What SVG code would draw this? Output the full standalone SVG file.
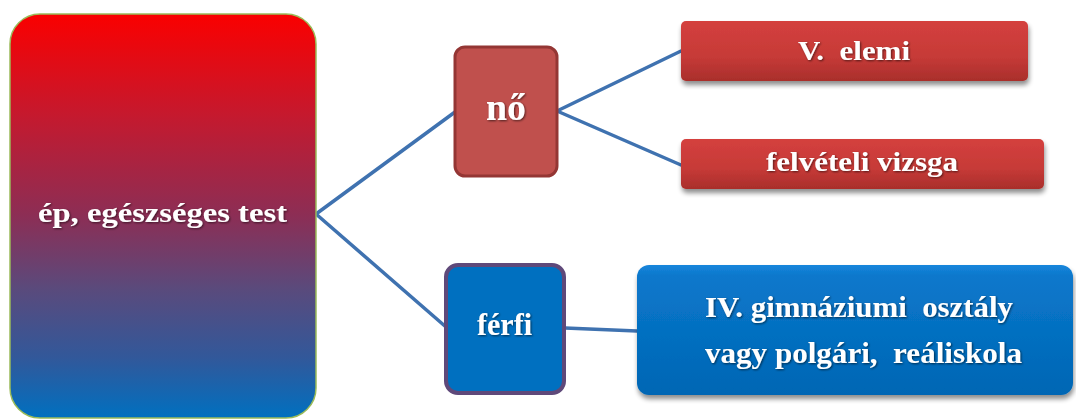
<svg xmlns="http://www.w3.org/2000/svg" width="1076" height="420" viewBox="0 0 1076 420">
<defs>
<linearGradient id="gMain" x1="0" y1="0" x2="0" y2="1">
<stop offset="0" stop-color="#fa0000"/>
<stop offset="0.25" stop-color="#c5192e"/>
<stop offset="0.5" stop-color="#8c2e55"/>
<stop offset="0.68" stop-color="#5a4a7c"/>
<stop offset="0.85" stop-color="#32589a"/>
<stop offset="1" stop-color="#0070c0"/>
</linearGradient>
<linearGradient id="gRed" x1="0" y1="0" x2="0" y2="1">
<stop offset="0" stop-color="#d4403e"/>
<stop offset="0.6" stop-color="#c63a37"/>
<stop offset="1" stop-color="#a92e2b"/>
</linearGradient>
<linearGradient id="gBlue" x1="0" y1="0" x2="0" y2="1">
<stop offset="0" stop-color="#1a86dc"/>
<stop offset="0.08" stop-color="#0a78cc"/>
<stop offset="1" stop-color="#0066b4"/>
</linearGradient>
<filter id="sh" x="-10%" y="-20%" width="120%" height="150%">
<feGaussianBlur in="SourceAlpha" stdDeviation="2.5"/>
<feOffset dx="1" dy="4" result="b"/>
<feComponentTransfer><feFuncA type="linear" slope="0.45"/></feComponentTransfer>
<feMerge><feMergeNode/><feMergeNode in="SourceGraphic"/></feMerge>
</filter>
<filter id="tsh" x="-10%" y="-30%" width="120%" height="160%">
<feGaussianBlur in="SourceAlpha" stdDeviation="0.8"/>
<feOffset dx="1" dy="1"/>
<feComponentTransfer><feFuncA type="linear" slope="0.6"/></feComponentTransfer>
<feMerge><feMergeNode/><feMergeNode in="SourceGraphic"/></feMerge>
</filter>
</defs>
<style>
.t{font-family:"Liberation Serif","Times New Roman",serif;font-weight:bold;fill:#ffffff;filter:url(#tsh)}
.c{fill:none;stroke:#3f72b0;stroke-width:3.5;stroke-linecap:round}
.sh{filter:url(#sh)}
</style>
<g id="connectors">
<line class="c" x1="316" y1="214" x2="455" y2="112"/>
<line class="c" x1="316" y1="214" x2="446" y2="327"/>
<line class="c" x1="557" y1="111" x2="681" y2="51"/>
<line class="c" x1="557" y1="111" x2="681" y2="165"/>
<line class="c" x1="565" y1="328" x2="637" y2="331"/>
</g>
<g id="main">
<rect x="10" y="14" width="306" height="404" rx="30" ry="30" fill="url(#gMain)" stroke="#9bbb59" stroke-width="1.5"/>
<text class="t" x="38" y="222" font-size="27" textLength="249" lengthAdjust="spacingAndGlyphs">ép, egészséges test</text>
</g>
<g id="no">
<rect x="455" y="47" width="102" height="129" rx="10" ry="10" fill="#c0504d" stroke="#943634" stroke-width="3"/>
<text class="t" x="486" y="120" font-size="38" textLength="40" lengthAdjust="spacingAndGlyphs">nő</text>
</g>
<g id="ferfi">
<rect x="446" y="265" width="118" height="128" rx="12" ry="12" fill="#0070c0" stroke="#5f497a" stroke-width="4"/>
<text class="t" x="477" y="335" font-size="31" textLength="55" lengthAdjust="spacingAndGlyphs">férfi</text>
</g>
<g id="elemi">
<rect class="sh" x="681" y="21" width="347" height="60" rx="5" ry="5" fill="url(#gRed)"/>
<text class="t" x="798" y="60" font-size="28" textLength="112" lengthAdjust="spacingAndGlyphs" xml:space="preserve">V.  elemi</text>
</g>
<g id="felveteli">
<rect class="sh" x="681" y="139" width="363" height="50" rx="5" ry="5" fill="url(#gRed)"/>
<text class="t" x="766" y="171" font-size="28" textLength="192" lengthAdjust="spacingAndGlyphs">felvételi vizsga</text>
</g>
<g id="gimnazium">
<rect class="sh" x="637" y="265" width="436" height="130" rx="12" ry="12" fill="url(#gBlue)"/>
<text class="t" x="705" y="317" font-size="30" textLength="308" lengthAdjust="spacingAndGlyphs" xml:space="preserve">IV. gimnáziumi  osztály</text>
<text class="t" x="705" y="363" font-size="30" textLength="317" lengthAdjust="spacingAndGlyphs" xml:space="preserve">vagy polgári,  reáliskola</text>
</g>
</svg>
